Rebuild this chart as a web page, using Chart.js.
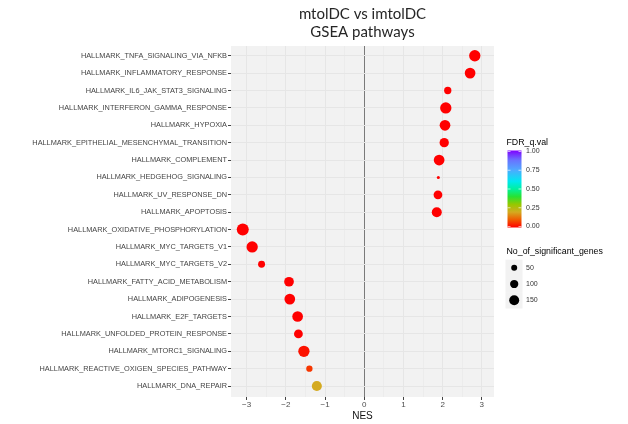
<!DOCTYPE html>
<html lang="en">
<head>
  <meta charset="UTF-8">
  <title>mtolDC vs imtolDC GSEA pathways</title>
  <script src="https://cdn.jsdelivr.net/npm/chart.js"></script>
  <style>
    body { margin: 0; background: #fff; }
    canvas { display: block; }
  </style>
</head>
<body>
  <canvas id="chart" width="628" height="424"></canvas>

  <script>
    // data
    const pathways = [
      "HALLMARK_TNFA_SIGNALING_VIA_NFKB",
      "HALLMARK_INFLAMMATORY_RESPONSE",
      "HALLMARK_IL6_JAK_STAT3_SIGNALING",
      "HALLMARK_INTERFERON_GAMMA_RESPONSE",
      "HALLMARK_HYPOXIA",
      "HALLMARK_EPITHELIAL_MESENCHYMAL_TRANSITION",
      "HALLMARK_COMPLEMENT",
      "HALLMARK_HEDGEHOG_SIGNALING",
      "HALLMARK_UV_RESPONSE_DN",
      "HALLMARK_APOPTOSIS",
      "HALLMARK_OXIDATIVE_PHOSPHORYLATION",
      "HALLMARK_MYC_TARGETS_V1",
      "HALLMARK_MYC_TARGETS_V2",
      "HALLMARK_FATTY_ACID_METABOLISM",
      "HALLMARK_ADIPOGENESIS",
      "HALLMARK_E2F_TARGETS",
      "HALLMARK_UNFOLDED_PROTEIN_RESPONSE",
      "HALLMARK_MTORC1_SIGNALING",
      "HALLMARK_REACTIVE_OXIGEN_SPECIES_PATHWAY",
      "HALLMARK_DNA_REPAIR"
    ];
    const nes = [2.82, 2.70, 2.13, 2.08, 2.06, 2.04, 1.91, 1.89, 1.88, 1.85,
                 -3.10, -2.86, -2.62, -1.92, -1.90, -1.70, -1.68, -1.54, -1.40, -1.21];
    const genes = [193, 173, 77, 193, 173, 129, 173, 8, 114, 150,
                   219, 193, 70, 141, 173, 173, 114, 193, 56, 153];
    const fdr = [0, 0, 0, 0, 0, 0, 0, 0, 0, 0,
                 0, 0, 0, 0, 0, 0, 0, 0.02, 0.06, 0.2];

    const xTicks = [-3, -2, -1, 0, 1, 2, 3];
    const fdrTicks = [0, 0.25, 0.5, 0.75, 1];
    const sizeKeys = [50, 100, 150];

    // colour ramp for FDR (red -> violet)
    const stops = [
      [0.00, [255, 0, 0]],
      [0.10, [240, 90, 0]],
      [0.20, [212, 170, 32]],
      [0.30, [150, 200, 0]],
      [0.40, [40, 225, 50]],
      [0.50, [0, 240, 160]],
      [0.60, [0, 232, 240]],
      [0.75, [80, 168, 255]],
      [0.88, [106, 112, 255]],
      [1.00, [128, 0, 255]]
    ];
    function fdrColor(v) {
      for (let i = 1; i < stops.length; i++) {
        if (v <= stops[i][0]) {
          const [a, ca] = stops[i - 1], [b, cb] = stops[i];
          const t = (v - a) / (b - a);
          const c = ca.map((x, k) => Math.round(x + (cb[k] - x) * t));
          return `rgb(${c[0]},${c[1]},${c[2]})`;
        }
      }
      return 'rgb(128,0,255)';
    }
    function sizeRadius(n) {
      return Math.sqrt(1 + 0.16 * n);
    }

    const FONT = '"Liberation Sans", Arial, Helvetica, sans-serif';

    const panelBg = {
      id: 'panelBg',
      beforeDraw(chart) {
        const { ctx, chartArea: a } = chart;
        ctx.save();
        ctx.fillStyle = '#F2F2F2';
        ctx.fillRect(a.left, a.top, a.right - a.left, a.bottom - a.top);
        ctx.restore();
      }
    };

    const extras = {
      id: 'extras',
      afterDraw(chart) {
        const { ctx, chartArea: a } = chart;
        ctx.save();

        // title
        ctx.fillStyle = '#262626';
        ctx.textAlign = 'center';
        ctx.textBaseline = 'middle';
        ctx.font = '15px Lato, "Open Sans", sans-serif';
        const cx = (a.left + a.right) / 2;
        ctx.fillText('mtolDC vs imtolDC', cx, 14);
        ctx.fillText('GSEA pathways', cx, 32);

        // colour bar legend
        ctx.textAlign = 'left';
        ctx.font = '8.8px ' + FONT;
        ctx.fillStyle = '#000';
        ctx.fillText('FDR_q.val', 506.5, 142.5);

        const bx = 507.5, bw = 14, by = 150.5, bh = 77;
        const grad = ctx.createLinearGradient(0, by + bh, 0, by);
        for (let i = 0; i <= 40; i++) grad.addColorStop(i / 40, fdrColor(i / 40));
        ctx.fillStyle = grad;
        ctx.fillRect(bx, by, bw, bh);

        ctx.font = '7px ' + FONT;
        ctx.fillStyle = '#333';
        ctx.strokeStyle = 'rgba(255,255,255,0.9)';
        ctx.lineWidth = 0.7;
        fdrTicks.forEach(v => {
          const y = by + bh - v * (bh - 2) - 1;
          ctx.beginPath();
          ctx.moveTo(bx, y); ctx.lineTo(bx + 3, y);
          ctx.moveTo(bx + bw - 3, y); ctx.lineTo(bx + bw, y);
          ctx.stroke();
          ctx.fillText(v.toFixed(2), 526, y);
        });

        // size legend
        ctx.font = '8.8px ' + FONT;
        ctx.fillStyle = '#000';
        ctx.fillText('No_of_significant_genes', 506.5, 251.5);
        const rows = [267.7, 284, 300.2];
        sizeKeys.forEach((n, i) => {
          const y = rows[i];
          ctx.fillStyle = '#F2F2F2';
          ctx.fillRect(505.5, y - 8, 17, 16.3);
          ctx.fillStyle = '#000';
          ctx.beginPath();
          ctx.arc(514.2, y, sizeRadius(n), 0, Math.PI * 2);
          ctx.fill();
          ctx.fillStyle = '#333';
          ctx.font = '7px ' + FONT;
          ctx.fillText(String(n), 526, y);
        });

        ctx.restore();
      }
    };

    const ctx = document.getElementById('chart').getContext('2d');
    new Chart(ctx, {
      type: 'scatter',
      data: {
        datasets: [{
          data: nes.map((v, i) => ({ x: v, y: i })),
          pointRadius: c => sizeRadius(genes[c.dataIndex]),
          pointHoverRadius: c => sizeRadius(genes[c.dataIndex]),
          backgroundColor: c => fdrColor(fdr[c.dataIndex]),
          borderWidth: 0
        }]
      },
      options: {
        responsive: false,
        animation: false,
        layout: { padding: { top: 46, right: 134, left: 0, bottom: 0 } },
        plugins: {
          legend: { display: false },
          tooltip: { enabled: false }
        },
        scales: {
          x: {
            type: 'linear',
            min: -3.4,
            max: 3.31,
            afterBuildTicks: s => {
              const t = [];
              for (let v = -3; v <= 3; v += 0.5) t.push({ value: v });
              s.ticks = t;
            },
            afterFit: s => { s.height = 27; },
            border: { display: false },
            grid: {
              color: c => c.tick && c.tick.value === 0 ? '#7A7A7A' : '#E6E6E6',
              lineWidth: c => c.tick && c.tick.value === 0 ? 1 : (Number.isInteger(c.tick && c.tick.value) ? 1 : 0.5),
              tickColor: c => Number.isInteger(c.tick && c.tick.value) ? '#444' : 'rgba(0,0,0,0)',
              tickLength: 3
            },
            ticks: {
              padding: 0,
              maxRotation: 0,
              autoSkip: false,
              color: '#4D4D4D',
              font: { family: FONT, size: 8 },
              callback: v => xTicks.includes(v) ? (v < 0 ? '\u2212' + (-v) : String(v)) : ''
            },
            title: {
              display: true,
              text: 'NES',
              color: '#111',
              font: { family: FONT, size: 10 },
              padding: { top: 0, bottom: 2 }
            }
          },
          y: {
            type: 'linear',
            reverse: true,
            min: -0.56,
            max: 19.63,
            afterBuildTicks: s => {
              s.ticks = pathways.map((_, i) => ({ value: i }));
            },
            afterFit: s => { s.width = 231; },
            border: { display: false },
            grid: {
              color: '#E6E6E6',
              lineWidth: 1,
              tickColor: '#444',
              tickLength: 3
            },
            ticks: {
              padding: 1,
              autoSkip: false,
              color: '#444',
              font: { family: FONT, size: 7.35 },
              callback: v => pathways[v]
            }
          }
        }
      },
      plugins: [panelBg, extras]
    });
  </script>
</body>
</html>
